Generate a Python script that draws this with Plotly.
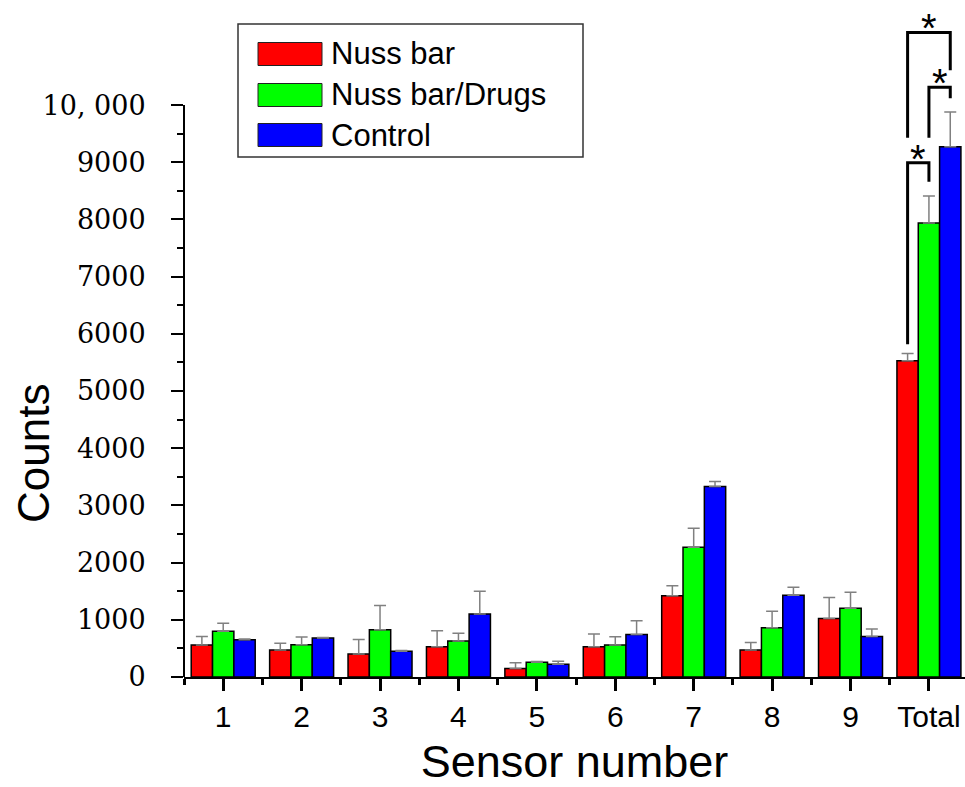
import plotly.graph_objects as go

# ---------------- data ----------------
categories = ["1", "2", "3", "4", "5", "6", "7", "8", "9", "Total"]
series_names = ["Nuss bar", "Nuss bar/Drugs", "Control"]
nuss = [560, 470, 400, 530, 150, 530, 1420, 470, 1025, 5530]
nuss_err = [150, 120, 255, 280, 100, 220, 175, 135, 365, 125]
drugs = [800, 565, 825, 630, 260, 560, 2270, 860, 1200, 7940]
drugs_err = [140, 135, 425, 135, 10, 145, 330, 290, 280, 470]
control = [650, 680, 450, 1100, 225, 745, 3330, 1430, 710, 9270]
control_err = [15, 10, 15, 400, 50, 240, 90, 140, 130, 610]
y_tick_values = [0, 1000, 2000, 3000, 4000, 5000, 6000, 7000, 8000, 9000, 10000]
y_tick_labels = ["0", "1000", "2000", "3000", "4000", "5000", "6000", "7000", "8000", "9000", "10, 000"]

colors = ["#FF0000", "#00FF00", "#0000FF"]

# ---------------- geometry ----------------
W, H = 965, 787
ML, MR, MT, MB = 184, 0, 5, 110
PW, PH = W - ML - MR, H - MT - MB
X_RANGE = [0.5, 10.46]
Y_TOP = 11750
BARGAP = 0.184
bar_w = (1 - BARGAP) / 3
SANS = "Liberation Sans, Arial"


def px_x(px):
    return (px - ML) / PW


def px_y(py):
    return (H - MB - py) / PH


xs = list(range(1, len(categories) + 1))

fig = go.Figure()
for name, vals, errs, col in zip(series_names, [nuss, drugs, control],
                                 [nuss_err, drugs_err, control_err], colors):
    fig.add_trace(go.Bar(
        x=xs, y=vals, name=name,
        marker=dict(color=col, line=dict(color="black", width=1.5)),
        error_y=dict(type="data", array=errs, arrayminus=[0] * len(errs),
                     symmetric=False, color="#808080", thickness=1.5, width=6),
        showlegend=False,
    ))

# ---------------- significance brackets on "Total" ----------------
total_x = xs[-1]
bar_centers = [total_x - bar_w, total_x, total_x + bar_w]
# (left bar, right bar, top level, left leg end, right leg end)
sig_brackets = [
    (0, 1, 8990, 5820, 8660),
    (1, 2, 10310, 9430, 10120),
    (0, 2, 11270, 9430, 10610),
]
for a, b, top, yl, yr in sig_brackets:
    xa, xb = bar_centers[a], bar_centers[b]
    fig.add_shape(type="path", xref="x", yref="y",
                  path=f"M {xa},{yl} L {xa},{top} L {xb},{top} L {xb},{yr}",
                  line=dict(color="black", width=3))
    fig.add_annotation(x=(xa + xb) / 2, y=top, xref="x", yref="y",
                       text="*", showarrow=False, yanchor="bottom", yshift=-20,
                       font=dict(family=SANS, size=40, color="black"))

# y-axis spine only from 0 to 10,000
fig.add_shape(type="line", xref="paper", yref="y", x0=0, x1=0, y0=0, y1=10000,
              line=dict(color="black", width=2))

# ---------------- custom legend ----------------
fig.add_shape(type="rect", xref="paper", yref="paper",
              x0=px_x(238), x1=px_x(583), y0=px_y(157), y1=px_y(24),
              line=dict(color="#333333", width=1.5), fillcolor="white")
row_centers = [54, 95, 135]
for name, col, rc in zip(series_names, colors, row_centers):
    fig.add_shape(type="rect", xref="paper", yref="paper",
                  x0=px_x(258), x1=px_x(322), y0=px_y(rc + 11.5), y1=px_y(rc - 11.5),
                  line=dict(color="#222222", width=1), fillcolor=col)
    fig.add_annotation(x=px_x(329), y=px_y(rc), xref="paper", yref="paper",
                       text=name, showarrow=False, xanchor="left", yanchor="middle",
                       font=dict(family=SANS, size=31, color="black"))

# y-axis title
fig.add_annotation(x=px_x(33), y=px_y(454), xref="paper", yref="paper",
                   text="Counts", textangle=-90, showarrow=False,
                   xanchor="center", yanchor="middle",
                   font=dict(family=SANS, size=44, color="black"))

fig.update_layout(
    width=W, height=H,
    margin=dict(l=ML, r=MR, t=MT, b=MB, pad=0),
    paper_bgcolor="white", plot_bgcolor="white",
    barmode="group", bargap=BARGAP, bargroupgap=0,
    xaxis=dict(
        range=X_RANGE, tickmode="array", tickvals=xs, ticktext=categories,
        showline=True, linecolor="black", linewidth=2, showgrid=False, zeroline=False,
        ticks="outside", ticklen=12, tickwidth=3, tickcolor="black",
        minor=dict(tickmode="array", tickvals=[x + 0.5 for x in xs[:-1]] + [0.5],
                   ticks="outside", ticklen=6, tickwidth=3, tickcolor="black"),
        tickfont=dict(family=SANS, size=30, color="black"),
        title=dict(text="Sensor number", standoff=16,
                   font=dict(family=SANS, size=45, color="black")),
    ),
    yaxis=dict(
        range=[0, Y_TOP], tickmode="array", tickvals=y_tick_values, ticktext=y_tick_labels,
        showline=False, showgrid=False, zeroline=False,
        ticks="outside", ticklen=12, tickwidth=2, tickcolor="black",
        minor=dict(tickmode="array", tickvals=[v + 500 for v in y_tick_values[:-1]],
                   ticks="outside", ticklen=6, tickwidth=2, tickcolor="black"),
        tickfont=dict(family="DejaVu Serif", size=27, color="black"),
        ticklabelstandoff=20,
    ),
)

fig.write_html("out.html", config={"displayModeBar": False},
               post_script="document.body.style.margin='0';document.body.style.overflow='hidden';")
